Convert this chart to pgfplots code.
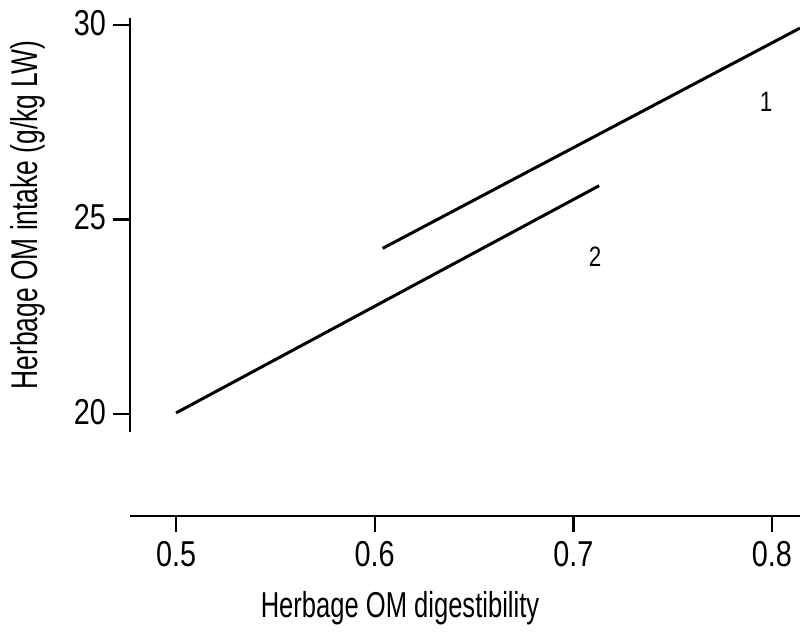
\documentclass[border=0pt]{standalone}
\usepackage{fontspec}
\setmainfont[FakeStretch=0.8]{Liberation Sans}
\newfontfamily\labfont[FakeStretch=0.71]{Liberation Sans}
\usepackage{pgfplots}
\pgfplotsset{compat=1.18}
\begin{document}
\begin{tikzpicture}
\useasboundingbox (-65pt,-102pt) rectangle (335pt,216pt);
\begin{axis}[at={(0,0)}, anchor=south west, scale only axis,
  width=335pt, height=207pt,
  xmin=0.4768, xmax=0.8141, ymin=19.54, ymax=30.18,
  axis x line=none, axis y line=left,
  axis line style={line width=1.4pt,-},
  ytick={20,25,30}, ytick pos=left, tick align=outside,
  major tick length=8.5pt,
  tick style={line width=1.2pt,black},
  /pgf/number format/assume math mode=true,
  yticklabel style={font=\fontsize{18}{18}\selectfont, yshift=1pt},
  ylabel={Herbage OM intake (g/kg LW)},
  ylabel style={font=\labfont\fontsize{18.6}{18.6}\selectfont, at={(axis description cs:-0.152,0.524)}, anchor=center},
  clip=false]
\addplot[black, line width=1.5pt] coordinates {(0.604,24.26) (0.8141,29.92)};
\addplot[black, line width=1.5pt] coordinates {(0.5,20.03) (0.713,25.87)};
\node[font=\fontsize{14}{14}\selectfont] at (axis cs:0.797,28.03) {1};
\node[font=\fontsize{14}{14}\selectfont] at (axis cs:0.711,24.05) {2};
\end{axis}
\begin{axis}[at={(0,-42pt)}, anchor=south west, scale only axis,
  width=335pt, height=10pt,
  xmin=0.4768, xmax=0.8141, ymin=0, ymax=1,
  axis y line=none, axis x line=bottom,
  axis line style={line width=1.4pt,-},
  xtick={0.5,0.6,0.7,0.8}, xticklabels={0.5,0.6,0.7,0.8},
  tick align=outside, major tick length=8pt,
  tick style={line width=1.2pt,black},
  xticklabel style={font=\fontsize{18}{18}\selectfont, yshift=-1pt},
  xlabel={Herbage OM digestibility},
  xlabel style={font=\labfont\fontsize{18}{18}\selectfont, at={(axis description cs:0.403,-4.6)}, anchor=center}]
\end{axis}
\end{tikzpicture}
\end{document}
